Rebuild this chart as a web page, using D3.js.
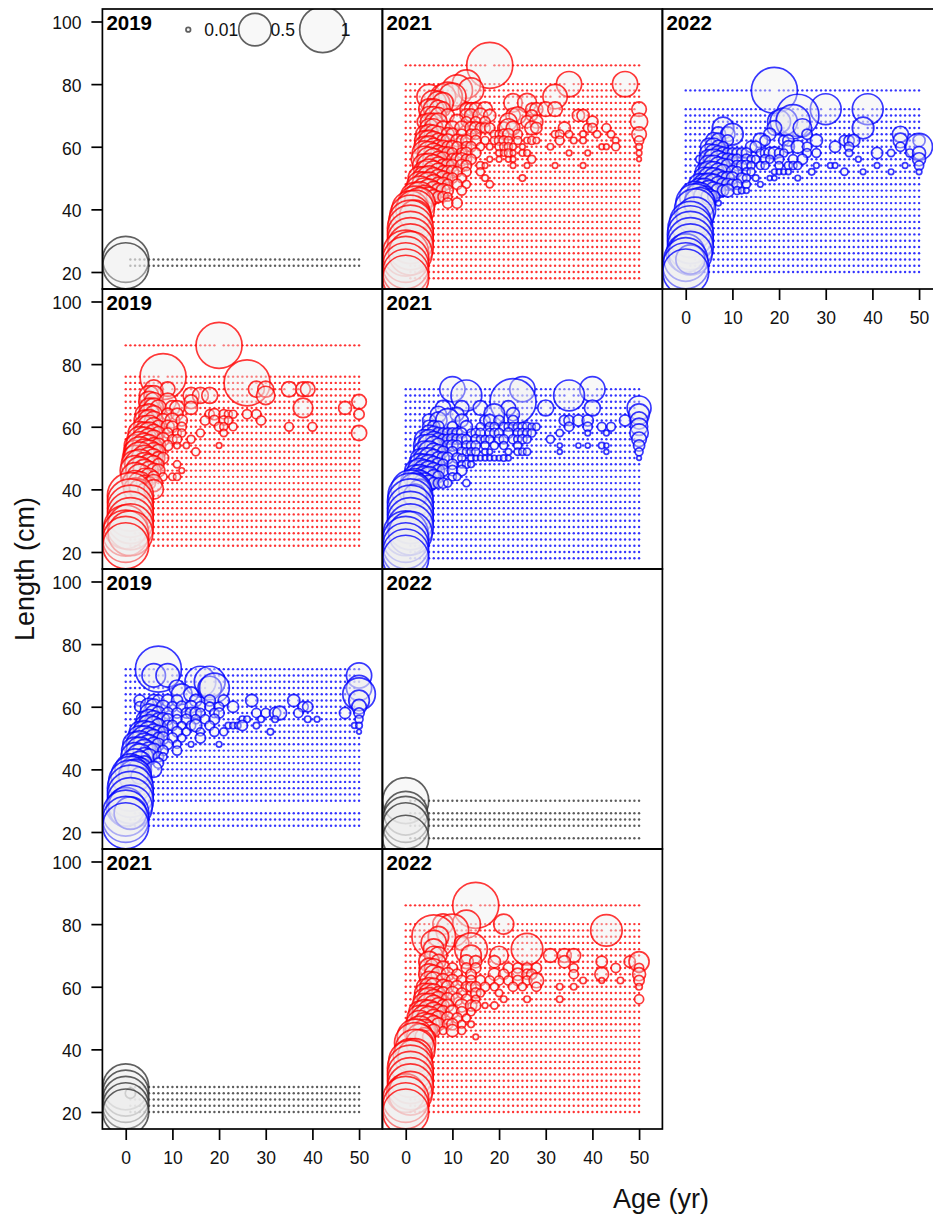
<!DOCTYPE html>
<html>
<head>
<meta charset="utf-8">
<script src="https://cdn.jsdelivr.net/npm/d3@7"></script>
<style>
  html, body { margin: 0; padding: 0; background: #fff; overflow: hidden; }
  text { font-family: "Liberation Sans", Arial, sans-serif; fill: #111; }
  .axis text { font-size: 17.5px; }
  .axis line { stroke: #000; stroke-width: 1.7; }
  .axis path { display: none; }
</style>
</head>
<body>
<div id="chart"></div>
<script>
"use strict";

// ages and the length bins with no fish in them still get a small dot
var ages = [0,1,2,3,4,5,6,7,8,9,10,11,12,13,14,15,16,17,18,19,20,21,22,23,24,25,26,27,28,29,30,31,32,33,34,35,36,37,38,39,40,41,42,43,44,45,46,47,48,49,50];
var xTicks = [0,10,20,30,40,50];
var yTicks = [20,40,60,80,100];

var lens2019a = [22,24];
var lens2021a = [86,80,78,76,74,72,70,68,66,64,62,60,58,56,54,52,50,48,46,44,42,40,38,36,34,32,30,28,26,24,22,20,18];
var lens2022a = [78,72,70,68,66,64,62,60,58,56,54,52,50,48,46,44,42,40,38,36,34,32,30,28,26,24,22,20];
var lens2019b = [86,76,74,72,70,68,66,64,62,60,58,56,54,52,50,48,46,44,42,40,38,36,34,32,30,28,26,24,22];
var lens2021b = [72,70,68,66,64,62,60,58,56,54,52,50,48,46,44,42,40,38,36,34,32,30,28,26,24,22,20,18];
var lens2019c = [72,70,68,66,64,62,60,58,56,54,52,50,48,46,44,42,40,38,36,34,32,30,26,24,22];
var lens2022b = [30,26,24,22,18];
var lens2021c = [28,26,24,22,20];
var lens2022c = [86,80,78,76,74,72,70,68,66,64,62,60,58,56,54,52,50,48,46,44,42,40,38,36,34,32,30,28,26,24,22,20];

// bubbles, one row per length: [length, [age, proportion, age, proportion, ...]]
var bub2019a = [[24,[0,1]],[22,[0,1]]];

var bub2021a = [
  [86,[18,1]],
  [80,[13,.38,35,.3,47,.3]],
  [78,[11,.45,14,.3]],
  [76,[5,.28,8,.3,9,.4,10,.35,32,.28]],
  [74,[6,.3,7,.25,8,.2,23,.16,26,.17]],
  [72,[5,.2,6,.2,7,.15,8,.1,13,.08,14,.08,15,.08,17,.1,27,.07,28,.08,30,.1,32,.1,50,.1]],
  [70,[5,.15,6,.15,7,.12,9,.08,13,.08,14,.08,16,.1,18,.07,23,.1,24,.14,27,.06,37,.07,38,.07]],
  [68,[4,.1,5,.14,6,.14,7,.14,11,.1,13,.05,15,.05,17,.05,22,.14,26,.07,28,.08,40,.06,50,.14]],
  [66,[5,.16,6,.16,8,.09,10,.09,12,.09,14,.07,15,.07,16,.05,17,.05,18,.05,21,.07,22,.16,23,.09,27,.09,28,.06,34,.07,39,.035,40,.04,43,.035]],
  [64,[4,.14,5,.18,6,.16,7,.12,9,.08,10,.07,12,.05,14,.05,15,.05,19,.03,20,.03,21,.05,22,.06,24,.04,32,.025,33,.035,35,.025,38,.02,41,.025,44,.025,50,.1]],
  [62,[4,.18,5,.2,6,.16,7,.1,8,.07,9,.08,11,.07,12,.05,13,.06,15,.05,17,.03,19,.03,20,.04,21,.04,22,.03,24,.03,26,.02,27,.03,28,.02,33,.035,36,.02,38,.02,45,.02,50,.04]],
  [60,[4,.2,5,.22,6,.14,7,.09,8,.08,9,.06,10,.07,11,.05,13,.05,14,.05,16,.03,18,.02,20,.03,21,.03,22,.03,23,.02,25,.015,31,.02,42,.015,43,.015,45,.03,50,.02]],
  [58,[4,.28,5,.25,6,.18,7,.11,8,.08,9,.07,10,.05,12,.05,13,.06,15,.05,20,.02,21,.02,22,.03,23,.015,25,.02,26,.02,35,.015,39,.015,50,.015]],
  [56,[4,.32,5,.28,6,.22,7,.12,8,.1,10,.06,11,.07,12,.08,13,.05,14,.05,18,.015,20,.015,22,.015,23,.015,27,.03,50,.01]],
  [54,[4,.26,5,.28,6,.22,7,.14,8,.08,9,.08,10,.07,12,.07,13,.05,16,.03,17,.015,23,.015,26,.015,32,.015,38,.015]],
  [52,[4,.22,5,.3,6,.22,7,.14,8,.07,9,.07,10,.07,11,.05,13,.04,16,.03]],
  [50,[3,.25,4,.25,5,.28,6,.2,7,.14,8,.1,9,.05,10,.05,12,.04,17,.02,25,.02]],
  [48,[3,.3,4,.28,5,.28,6,.18,7,.1,8,.09,9,.05,11,.05,13,.03,18,.025]],
  [46,[3,.4,4,.3,5,.25,6,.16,7,.1,8,.09,9,.06,12,.04]],
  [44,[2,.4,3,.42,4,.25,5,.18,6,.1,7,.06,8,.05,9,.035]],
  [42,[2,.55,3,.45,9,.05,11,.05]],
  [40,[1,.65,2,.7]],
  [38,[1,.8,2,.45]],
  [36,[1,.9]],[34,[1,1]],[32,[1,1]],[30,[1,1]],[28,[1,1]],
  [26,[0,1,1,.9]],[24,[0,1]],[22,[0,1]],[20,[0,1]],[18,[0,1]]
];

var bub2022a = [
  [78,[19,1]],
  [72,[30,.45,39,.45]],
  [70,[24,.85]],
  [68,[20,.25,21,.35,23,.55]],
  [66,[8,.22,19,.1,25,.16,38,.22]],
  [64,[7,.1,9,.1,10,.22,18,.07,26,.05,46,.12]],
  [62,[6,.12,7,.1,9,.06,16,.1,17,.05,21,.05,22,.06,28,.07,34,.05,35,.05,36,.07,46,.1,50,.07]],
  [60,[5,.14,6,.14,7,.08,8,.05,14,.06,15,.06,22,.07,24,.08,26,.04,32,.06,35,.04,46,.04,50,.34]],
  [58,[5,.16,6,.14,7,.1,8,.07,9,.05,10,.05,11,.05,12,.05,13,.05,16,.03,17,.04,18,.06,19,.07,20,.04,21,.03,26,.035,28,.035,35,.025,41,.06,44,.025,48,.03,50,.08]],
  [56,[3,.03,5,.18,6,.2,7,.14,8,.08,9,.07,10,.05,11,.05,13,.05,14,.03,15,.03,17,.04,18,.03,20,.04,23,.04,25,.05,37,.015,50,.08]],
  [54,[5,.2,6,.2,7,.14,8,.1,9,.08,11,.05,12,.05,13,.05,14,.03,16,.03,17,.03,20,.03,22,.03,23,.03,24,.03,28,.015,31,.015,32,.015,41,.015,47,.015,50,.04]],
  [52,[4,.16,5,.22,6,.2,7,.14,8,.1,10,.07,11,.05,13,.03,14,.03,19,.015,20,.015,21,.015,22,.015,27,.02,34,.025,38,.015,44,.015,50,.015]],
  [50,[4,.22,5,.22,6,.2,7,.14,8,.08,9,.08,10,.07,12,.05,13,.03,15,.02,18,.012,19,.012,24,.015]],
  [48,[3,.22,4,.22,5,.24,6,.2,7,.12,8,.08,9,.07,10,.05,11,.05,13,.03,16,.015]],
  [46,[3,.28,4,.28,5,.2,6,.14,7,.1,8,.06,9,.08,11,.03,12,.02,13,.015]],
  [44,[2,.45,3,.38,4,.22,5,.12,6,.07]],
  [42,[2,.7,3,.45,7,.015]],
  [40,[2,.8]],[38,[2,.65]],
  [36,[1,.8]],[34,[1,.95]],[32,[1,1]],[30,[1,1]],[28,[1,1]],
  [26,[0,.7,1,.9]],[24,[0,.9,1,.4]],[22,[0,1]],[20,[0,1]]
];

var bub2019b = [
  [86,[20,1]],
  [76,[8,1]],
  [74,[26,1]],
  [72,[6,.16,9,.1,28,.12,30,.12,35,.11,38,.1,39,.1]],
  [70,[5,.18,6,.18,14,.12,16,.12,18,.12,30,.16]],
  [68,[5,.2,6,.16,9,.14,14,.09,50,.1]],
  [66,[5,.18,6,.18,7,.12,10,.1,11,.1,14,.08,38,.18,47,.08]],
  [64,[4,.16,5,.2,6,.14,9,.07,11,.07,18,.04,19,.06,21,.04,22,.03,23,.03,26,.04,28,.04,50,.05]],
  [62,[4,.2,5,.22,6,.16,8,.09,10,.1,12,.06,17,.04,19,.05,21,.04,22,.03,29,.04]],
  [60,[4,.22,5,.25,6,.16,7,.08,9,.08,10,.06,12,.04,20,.04,21,.03,23,.03,35,.035,40,.035]],
  [58,[3,.25,4,.22,5,.22,6,.14,7,.08,9,.05,11,.035,12,.03,16,.03,21,.025,50,.11]],
  [56,[3,.3,4,.28,5,.22,6,.16,8,.08,10,.04,11,.04,14,.03]],
  [54,[2,.22,3,.36,4,.28,5,.22,6,.12,7,.1,9,.05,11,.02,13,.018,20,.015]],
  [52,[2,.25,3,.42,4,.3,5,.26,6,.16,7,.1,15,.03]],
  [50,[2,.3,3,.48,4,.3,5,.22,6,.16,7,.08,8,.06]],
  [48,[2,.36,3,.42,4,.26,5,.2,6,.14,7,.06,11,.025]],
  [46,[2,.42,3,.36,4,.24,5,.16,6,.1,7,.08,12,.015]],
  [44,[2,.38,3,.3,4,.14,5,.14,6,.06,8,.03,10,.025,11,.025]],
  [42,[2,.3,3,.25,4,.12,5,.08,6,.14]],
  [40,[2,.25,3,.2,4,.08,6,.18]],
  [38,[1,1]],[36,[1,1]],[34,[1,1]],[32,[1,1]],[30,[1,1]],[28,[0,.9,1,1]],[26,[0,1,1,.95]],[24,[0,1]],[22,[0,1]]
];

var bub2021b = [
  [72,[10,.3,25,.3,40,.3]],
  [70,[13,.45,35,.45]],
  [68,[23,1]],
  [66,[8,.11,12,.1,16,.1,22,.1,30,.12,40,.12,50,.27]],
  [64,[7,.12,11,.09,19,.2,23,.08,50,.2]],
  [62,[5,.08,7,.14,9,.27,12,.08,17,.05,18,.07,20,.05,23,.05,34,.05,35,.05,37,.06,39,.06,47,.06,50,.14]],
  [60,[5,.08,6,.07,7,.06,10,.05,13,.07,16,.03,18,.035,19,.035,21,.035,22,.035,23,.035,24,.035,25,.035,26,.035,27,.025,28,.025,35,.04,39,.04,42,.035,44,.035,50,.14]],
  [58,[5,.12,6,.09,7,.06,8,.05,9,.05,10,.05,11,.05,12,.05,14,.03,15,.04,16,.04,18,.04,19,.04,20,.04,22,.05,24,.04,25,.04,26,.035,27,.03,33,.025,39,.015,43,.015,50,.16]],
  [56,[4,.18,5,.18,6,.12,7,.08,8,.05,9,.05,10,.06,11,.05,12,.05,13,.04,15,.04,16,.03,17,.03,18,.03,20,.04,21,.04,23,.04,24,.03,25,.04,26,.03,31,.03,50,.1]],
  [54,[4,.22,5,.24,6,.16,7,.1,9,.05,10,.06,11,.05,13,.04,14,.04,15,.04,17,.03,19,.03,21,.03,24,.03,33,.012,37,.012,39,.012,42,.02,43,.012,50,.06]],
  [52,[4,.22,5,.22,6,.14,7,.1,8,.06,10,.05,12,.04,13,.03,14,.03,15,.03,17,.02,18,.015,22,.02,24,.025,25,.025,26,.025,33,.012,43,.012,50,.03]],
  [50,[3,.16,4,.2,5,.2,6,.14,7,.08,8,.07,9,.06,11,.05,12,.03,14,.02,15,.015,16,.015,17,.015,18,.015,19,.015,20,.015,21,.02,22,.015,50,.01]],
  [48,[3,.22,4,.2,5,.18,6,.12,7,.08,8,.05,10,.05,12,.025,13,.03,14,.02]],
  [46,[2,.2,3,.28,4,.22,5,.18,6,.12,7,.07,8,.06,10,.05,12,.05]],
  [44,[2,.26,3,.28,4,.22,5,.2,6,.1,7,.06,10,.03,11,.025]],
  [42,[2,.4,3,.3,4,.2,5,.12,6,.06,7,.05,8,.05,9,.03,13,.025]],
  [40,[1,.7,2,.5,3,.2]],
  [38,[1,.95,2,.25]],
  [36,[1,1]],[34,[1,1]],[32,[1,1]],[30,[1,1]],[28,[1,1]],
  [26,[0,.95,1,.9]],[24,[0,1]],[22,[0,1]],[20,[0,1]],[18,[0,1]]
];

var bub2019c = [
  [72,[7,1]],
  [70,[6,.26,9,.26,50,.3]],
  [68,[16,.45,18,.45]],
  [66,[11,.12,18,.26,19,.42,50,.3]],
  [64,[12,.2,14,.1,50,.5]],
  [62,[3,.06,6,.07,7,.06,9,.07,11,.06,15,.07,18,.06,21,.06,27,.07,36,.07,50,.2]],
  [60,[3,.05,5,.14,6,.12,8,.08,10,.05,12,.06,14,.07,16,.05,18,.04,20,.04,23,.06,38,.05,39,.05,50,.1]],
  [58,[5,.16,6,.12,7,.08,9,.06,11,.05,13,.05,14,.06,15,.06,16,.04,19,.04,20,.05,28,.04,30,.04,32,.06,33,.09,37,.04,47,.06,50,.05]],
  [56,[4,.12,5,.18,6,.14,7,.08,8,.08,9,.06,11,.04,13,.05,15,.04,17,.04,19,.05,25,.02,26,.02,29,.02,32,.02,39,.02,41,.015,50,.03]],
  [54,[4,.18,5,.22,6,.16,7,.09,9,.05,10,.05,12,.03,14,.04,15,.07,18,.04,22,.02,23,.02,24,.02,25,.05,28,.02,49,.015,50,.02]],
  [52,[3,.2,4,.24,5,.2,6,.12,7,.08,8,.05,11,.05,13,.03,16,.03,19,.04,21,.03,31,.02,50,.01]],
  [50,[3,.28,4,.28,5,.2,6,.14,7,.06,8,.07,10,.05,12,.03,16,.05]],
  [48,[2,.28,3,.34,4,.24,5,.18,6,.1,7,.07,9,.05,11,.03,14,.015,20,.015]],
  [46,[2,.34,3,.34,4,.24,5,.14,6,.1,8,.05,11,.04]],
  [44,[2,.38,3,.32,4,.16,5,.12,7,.05,8,.03]],
  [42,[2,.38,3,.26,4,.1,7,.05]],
  [40,[1,.45,2,.36,3,.26,6,.12]],
  [38,[1,.7,2,.5,3,.14]],
  [36,[1,.9]],[34,[1,1]],[32,[1,1]],[30,[1,1]],
  [28,[0,.7,1,.9]],[26,[0,1,1,.5]],[24,[0,1]],[22,[0,1]]
];

var bub2022b = [[30,[0,1]],[26,[0,.9]],[24,[0,1]],[22,[0,1]],[18,[0,1]]];

var bub2021c = [[28,[0,1]],[26,[0,1,1,.05]],[24,[0,1]],[22,[0,1]],[20,[0,1]]];

var bub2022c = [
  [86,[15,1]],
  [80,[8,.2,13,.37,21,.19]],
  [78,[10,.5,43,.47]],
  [76,[6,.9,7,.2]],
  [74,[6,.3,12,.1]],
  [72,[14,.5,26,.47,6,.2]],
  [70,[6,.16,7,.14,14,.2,20,.16,31,.09,34,.09,36,.09]],
  [68,[5,.2,7,.1,13,.09,15,.07,19,.07,34,.07,42,.06,48,.06,50,.19]],
  [66,[5,.18,6,.16,8,.09,10,.05,13,.05,15,.05,22,.05,24,.05,26,.05,28,.05,36,.035,45,.04,50,.04]],
  [64,[5,.2,6,.16,7,.1,9,.08,11,.05,14,.05,19,.07,21,.05,24,.07,26,.05,27,.05,36,.04,42,.09,50,.08]],
  [62,[5,.16,6,.14,8,.09,10,.07,12,.05,14,.05,16,.05,18,.04,20,.04,22,.04,24,.05,26,.04,28,.1,38,.02,42,.015,46,.02,50,.05]],
  [60,[4,.12,5,.16,6,.14,8,.1,9,.07,11,.07,13,.05,14,.05,15,.05,17,.04,19,.03,23,.04,25,.03,28,.04,33,.02,36,.02,50,.02]],
  [58,[4,.18,5,.18,6,.16,7,.08,8,.07,10,.08,12,.05,15,.05,16,.03,20,.025]],
  [56,[4,.22,5,.26,6,.18,7,.12,9,.08,11,.07,13,.05,15,.03,21,.02,26,.02,33,.02,50,.04]],
  [54,[4,.28,5,.28,6,.2,7,.12,8,.07,9,.07,12,.08,14,.06,15,.05,17,.015,19,.025]],
  [52,[3,.22,4,.28,5,.26,6,.18,7,.1,8,.07,10,.08,12,.05,14,.03]],
  [50,[3,.3,4,.3,5,.26,6,.14,7,.1,9,.07,11,.05,13,.03]],
  [48,[3,.36,4,.26,5,.22,6,.14,7,.08,9,.05,10,.06,12,.03,14,.02]],
  [46,[2,.25,3,.4,4,.24,5,.14,6,.08,8,.03,10,.07,12,.03]],
  [44,[2,.6,3,.32,4,.16,5,.08,15,.015]],
  [42,[2,.8,3,.35]],
  [40,[2,.75]],
  [38,[1,.55,2,.55]],
  [36,[1,.9]],[34,[1,1]],[32,[1,1]],[30,[1,1]],[28,[1,1]],
  [26,[0,.7,1,.9]],[24,[0,1]],[22,[0,1]],[20,[0,1]]
];

var legendAges = [13.4,27.7,42.2];
var legendProps = [.01,.5,1];
var legendLabels = ["0.01","0.5","1"];
var legendLen = 97.4;

var panels = [
  {year:"2019", col:0, row:0, color:"#333333", lens:lens2019a, bub:bub2019a, legend:true},
  {year:"2021", col:1, row:0, color:"#ff0000", lens:lens2021a, bub:bub2021a},
  {year:"2022", col:2, row:0, color:"#0000ff", lens:lens2022a, bub:bub2022a, xaxis:true},
  {year:"2019", col:0, row:1, color:"#ff0000", lens:lens2019b, bub:bub2019b},
  {year:"2021", col:1, row:1, color:"#0000ff", lens:lens2021b, bub:bub2021b},
  {year:"2019", col:0, row:2, color:"#0000ff", lens:lens2019c, bub:bub2019c},
  {year:"2022", col:1, row:2, color:"#333333", lens:lens2022b, bub:bub2022b},
  {year:"2021", col:0, row:3, color:"#333333", lens:lens2021c, bub:bub2021c, xaxis:true},
  {year:"2022", col:1, row:3, color:"#ff0000", lens:lens2022c, bub:bub2022c, xaxis:true}
];

var width = 933, height = 1218;
var panelSize = 280;
var left = 102.4, top0 = 9;

var x = d3.scaleLinear().domain([-5,55]).range([0,panelSize]);
var y = d3.scaleLinear().domain([14.57,103.99]).range([panelSize,0]);
var r = d3.scaleSqrt().domain([0,1]).range([0,23]);

var svg = d3.select("#chart").append("svg")
    .attr("width", width)
    .attr("height", height)
    .style("display", "block");

panels.forEach(function(p, i) {
  var g = svg.append("g")
      .attr("transform", "translate(" + (left + p.col*panelSize) + "," + (top0 + p.row*panelSize) + ")");

  g.append("clipPath").attr("id", "clip" + i)
    .append("rect").attr("width", panelSize).attr("height", panelSize);

  var plot = g.append("g").attr("clip-path", "url(#clip" + i + ")");

  // flatten the rows into single bubbles
  var bubbles = [];
  p.bub.forEach(function(row) {
    for (var k = 0; k < row[1].length; k += 2) {
      bubbles.push({len: row[0], age: row[1][k], prop: row[1][k+1]});
    }
  });
  var taken = {};
  bubbles.forEach(function(d) { taken[d.age + "_" + d.len] = true; });

  // zero dots
  var dots = [];
  p.lens.forEach(function(l) {
    ages.forEach(function(a) {
      if (!taken[a + "_" + l]) dots.push({age: a, len: l});
    });
  });
  plot.selectAll(".dot").data(dots).enter().append("circle")
      .attr("class", "dot")
      .attr("cx", function(d) { return x(d.age); })
      .attr("cy", function(d) { return y(d.len); })
      .attr("r", 1.2)
      .attr("fill", p.color)
      .attr("fill-opacity", .8);

  plot.selectAll(".bubble").data(bubbles).enter().append("circle")
      .attr("class", "bubble")
      .attr("cx", function(d) { return x(d.age); })
      .attr("cy", function(d) { return y(d.len); })
      .attr("r", function(d) { return r(d.prop); })
      .attr("fill", "#eeeeee")
      .attr("fill-opacity", .4)
      .attr("stroke", p.color)
      .attr("stroke-opacity", .78)
      .attr("stroke-width", 1.7);

  if (p.legend) {
    legendAges.forEach(function(a, k) {
      plot.append("circle")
          .attr("cx", x(a))
          .attr("cy", y(legendLen))
          .attr("r", r(legendProps[k]))
          .attr("fill", "#eeeeee")
          .attr("fill-opacity", .4)
          .attr("stroke", p.color)
          .attr("stroke-opacity", .78)
          .attr("stroke-width", 1.7);
      plot.append("text")
          .attr("x", x(a) + r(legendProps[k]) + (k == 0 ? 13.7 : k == 1 ? -.7 : -5))
          .attr("y", y(legendLen) + 6.5)
          .style("font-size", "17.5px")
          .text(legendLabels[k]);
    });
  }

  g.append("text")
      .attr("x", 4)
      .attr("y", 21)
      .style("font-size", "20.5px")
      .style("font-weight", "bold")
      .style("fill", "#000")
      .text(p.year);

  g.append("rect")
      .attr("width", panelSize)
      .attr("height", panelSize)
      .attr("fill", "none")
      .attr("stroke", "#000")
      .attr("stroke-width", 1.7);

  if (p.col == 0) {
    g.append("g").attr("class", "axis")
        .call(d3.axisLeft(y).tickValues(yTicks).tickSize(11).tickPadding(10).tickFormat(d3.format("d")))
        .selectAll("text").attr("dy", ".42em");
  }
  if (p.xaxis) {
    g.append("g").attr("class", "axis")
        .attr("transform", "translate(0," + panelSize + ")")
        .call(d3.axisBottom(x).tickValues(xTicks).tickSize(11).tickPadding(12).tickFormat(d3.format("d")));
  }
});

// axis titles
svg.append("text")
    .attr("x", 661)
    .attr("y", 1208)
    .attr("text-anchor", "middle")
    .style("font-size", "27px")
    .text("Age (yr)");

svg.append("text")
    .attr("transform", "translate(34,569) rotate(-90)")
    .attr("text-anchor", "middle")
    .style("font-size", "27px")
    .text("Length (cm)");
</script>
</body>
</html>
